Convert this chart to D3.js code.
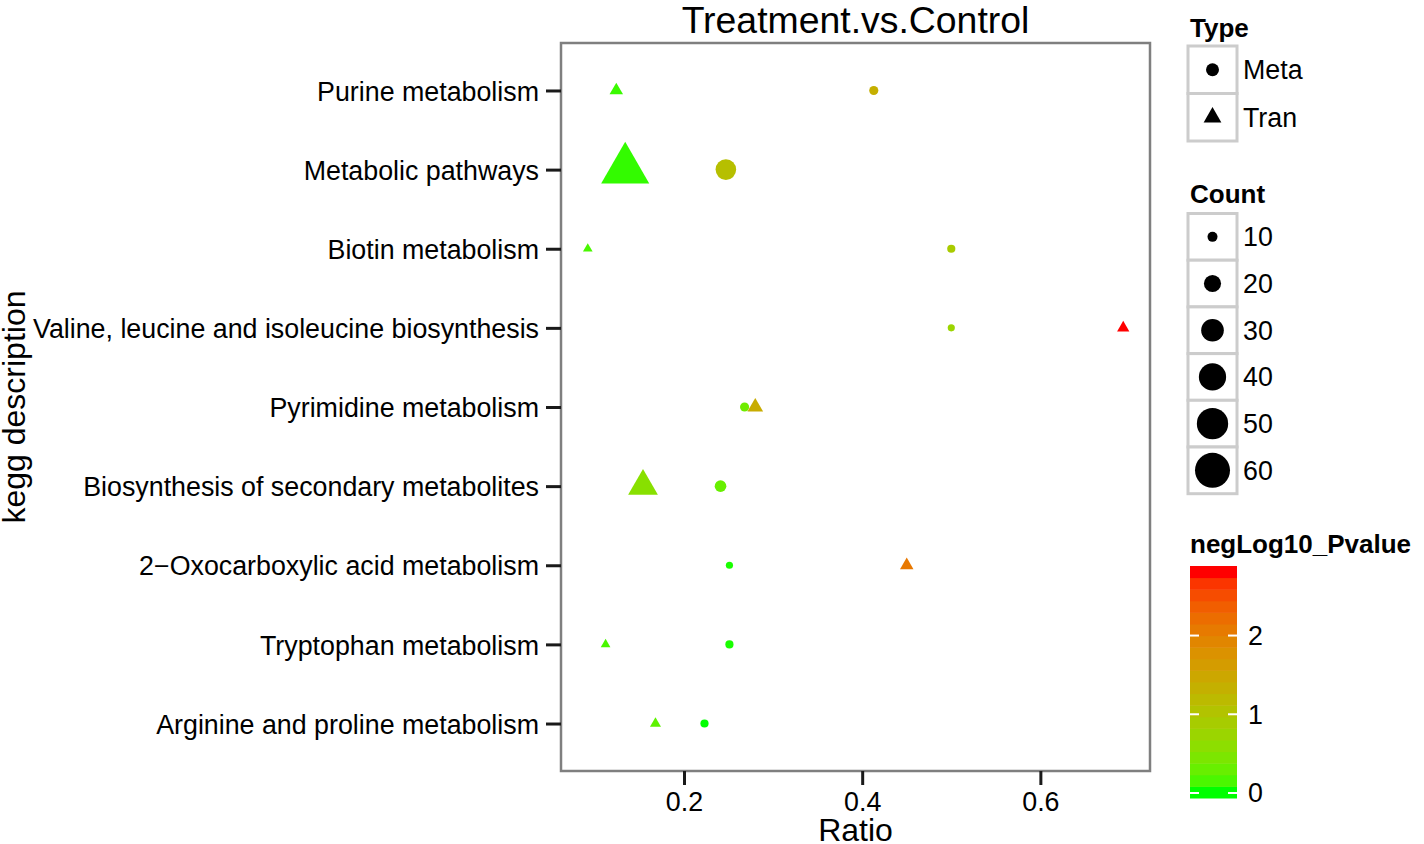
<!DOCTYPE html>
<html>
<head>
<meta charset="utf-8">
<script src="https://cdn.jsdelivr.net/npm/d3@7"></script>
<style>
  html, body { margin: 0; padding: 0; background: #ffffff; }
  svg { display: block; }
  text { font-family: "Liberation Sans", Arial, Helvetica, sans-serif; fill: #000; }
</style>
</head>
<body>
<svg id="chart" width="1424" height="844"></svg>
<script>
// ---------------- data ----------------
const categories = [
  "Purine metabolism",
  "Metabolic pathways",
  "Biotin metabolism",
  "Valine, leucine and isoleucine biosynthesis",
  "Pyrimidine metabolism",
  "Biosynthesis of secondary metabolites",
  "2\u2212Oxocarboxylic acid metabolism",
  "Tryptophan metabolism",
  "Arginine and proline metabolism"
];
const metaRatio = [0.413, 0.247, 0.500, 0.500, 0.268, 0.241, 0.251, 0.251, 0.223];
const tranRatio = [0.124, 0.134, 0.092, 0.693, 0.280, 0.154, 0.450, 0.112, 0.168];
const metaCount = [9, 26, 8, 7, 9, 12, 7, 8, 8];
const tranCount = [10, 62, 7, 9, 12, 29, 10, 7, 8];
const metaNegLog10P = [1.35, 1.10, 0.92, 0.75, 0.35, 0.30, 0.03, 0.03, 0.01];
const tranNegLog10P = [0.10, 0.08, 0.15, 2.81, 1.40, 0.55, 2.10, 0.15, 0.25];

const typeLabels = ["Meta", "Tran"];
const countBreaks = [10, 20, 30, 40, 50, 60];
const colorBreaks = [0, 1, 2];
const xTicks = [0.2, 0.4, 0.6];

const titleText = "Treatment.vs.Control";
const xTitle = "Ratio";
const yTitle = "kegg description";

// ---------------- layout ----------------
const svg = d3.select("#chart");
const panel = { left: 561, right: 1150, top: 43, bottom: 771 };
const font = "'Liberation Sans', Arial, Helvetica, sans-serif";
const axisFont = 26.8;

const allRatios = metaRatio.concat(tranRatio);
const allP = metaNegLog10P.concat(tranNegLog10P);
const [rMin, rMax] = d3.extent(allRatios);
const rPad = (rMax - rMin) * 0.05;

const x = d3.scaleLinear().domain([rMin - rPad, rMax + rPad]).range([panel.left, panel.right]);
const y = d3.scalePoint().domain(categories).range([panel.top, panel.bottom]).padding(0.6);
const diam = d3.scalePow().exponent(0.5).domain([10, 60]).range([10, 35]);
const pExtent = d3.extent(allP);
const color = d3.scaleLinear().domain(pExtent).range(["#00ff00", "#ff0000"]).interpolate(d3.interpolateLab);

// R pch 17 triangle (area equal to circle of radius R)
function triPath(R) {
  const r = 1.5551 * R, yc = 0.7776 * R, xc = 1.3468 * R;
  return `M0,${-r}L${xc},${yc}L${-xc},${yc}Z`;
}

// ---------------- panel ----------------
svg.append("rect")
  .attr("x", panel.left).attr("y", panel.top)
  .attr("width", panel.right - panel.left).attr("height", panel.bottom - panel.top)
  .attr("fill", "#ffffff");

const metaData = categories.map((c, i) => ({ c, r: metaRatio[i], n: metaCount[i], p: metaNegLog10P[i] }));
const tranData = categories.map((c, i) => ({ c, r: tranRatio[i], n: tranCount[i], p: tranNegLog10P[i] }));

svg.append("g").selectAll("circle").data(metaData).join("circle")
  .attr("cx", d => x(d.r)).attr("cy", d => y(d.c))
  .attr("r", d => diam(d.n) / 2)
  .attr("fill", d => color(d.p));

svg.append("g").selectAll("path").data(tranData).join("path")
  .attr("transform", d => `translate(${x(d.r)},${y(d.c)})`)
  .attr("d", d => triPath(diam(d.n) / 2))
  .attr("fill", d => color(d.p));

svg.append("rect")
  .attr("x", panel.left).attr("y", panel.top)
  .attr("width", panel.right - panel.left).attr("height", panel.bottom - panel.top)
  .attr("fill", "none").attr("stroke", "#7f7f7f").attr("stroke-width", 2.5);

// ---------------- axes ----------------
const xAxis = svg.append("g").attr("transform", `translate(0,${panel.bottom})`)
  .call(d3.axisBottom(x).tickValues(xTicks).tickFormat(d3.format(".1f")).tickSize(14).tickPadding(7));
xAxis.select(".domain").remove();
xAxis.selectAll(".tick line").attr("stroke", "#1a1a1a").attr("stroke-width", 3);
xAxis.selectAll(".tick text").attr("font-family", font).attr("font-size", axisFont).attr("fill", "#000")
  .attr("dy", "0.71em");

const yAxis = svg.append("g").attr("transform", `translate(${panel.left},0)`)
  .call(d3.axisLeft(y).tickSize(15).tickPadding(7));
yAxis.select(".domain").remove();
yAxis.selectAll(".tick line").attr("stroke", "#1a1a1a").attr("stroke-width", 3);
yAxis.selectAll(".tick text").attr("font-family", font).attr("font-size", axisFont).attr("fill", "#000")
  .attr("dy", "0.36em");

// titles
svg.append("text").attr("x", (panel.left + panel.right) / 2).attr("y", 33)
  .attr("text-anchor", "middle").attr("font-size", 37.4).text(titleText);
svg.append("text").attr("x", (panel.left + panel.right) / 2).attr("y", 841)
  .attr("text-anchor", "middle").attr("font-size", 32).text(xTitle);
svg.append("text")
  .attr("transform", `translate(25,${(panel.top + panel.bottom) / 2}) rotate(-90)`)
  .attr("text-anchor", "middle").attr("font-size", 32).text(yTitle);

// ---------------- legends ----------------
const lg = { x: 1188, w: 49, textX: 1243 };

// Type legend
svg.append("text").attr("x", 1190).attr("y", 37).attr("font-size", 26).attr("font-weight", "bold").text("Type");
const typeTop = 46, typeH = 47.5;
typeLabels.forEach((t, i) => {
  const y0 = typeTop + i * typeH;
  svg.append("rect").attr("x", lg.x).attr("y", y0).attr("width", lg.w).attr("height", typeH)
    .attr("fill", "#ffffff").attr("stroke", "#cccccc").attr("stroke-width", 3);
  const cx = lg.x + lg.w / 2, cy = y0 + typeH / 2;
  if (t === "Meta") {
    svg.append("circle").attr("cx", cx).attr("cy", cy).attr("r", 6.5).attr("fill", "#000");
  } else {
    svg.append("path").attr("transform", `translate(${cx},${cy})`).attr("d", triPath(6.6)).attr("fill", "#000");
  }
  svg.append("text").attr("x", lg.textX).attr("y", cy + 9.5).attr("font-size", 26.8).text(t);
});

// Count legend
svg.append("text").attr("x", 1190).attr("y", 203).attr("font-size", 26).attr("font-weight", "bold").text("Count");
const countTop = 213.5, countH = 46.7;
countBreaks.forEach((b, i) => {
  const y0 = countTop + i * countH;
  svg.append("rect").attr("x", lg.x).attr("y", y0).attr("width", lg.w).attr("height", countH)
    .attr("fill", "#ffffff").attr("stroke", "#cccccc").attr("stroke-width", 3);
  const cx = lg.x + lg.w / 2, cy = y0 + countH / 2;
  svg.append("circle").attr("cx", cx).attr("cy", cy).attr("r", diam(b) / 2).attr("fill", "#000");
  svg.append("text").attr("x", lg.textX).attr("y", cy + 9.5).attr("font-size", 26.8).text(b);
});

// Colorbar legend
svg.append("text").attr("x", 1190).attr("y", 553).attr("font-size", 26).attr("font-weight", "bold").text("negLog10_Pvalue");
const cb = { x: 1190, w: 47, top: 566, bottom: 798, nbin: 20 };
const binH = (cb.bottom - cb.top) / cb.nbin;
const binVals = d3.range(cb.nbin).map(i => pExtent[0] + (pExtent[1] - pExtent[0]) * i / (cb.nbin - 1));
svg.append("g").selectAll("rect").data(binVals).join("rect")
  .attr("x", cb.x).attr("width", cb.w)
  .attr("y", (d, i) => cb.bottom - (i + 1) * binH).attr("height", binH + 0.5)
  .attr("fill", d => color(d));
const cbScale = d3.scaleLinear().domain(pExtent).range([cb.bottom - binH / 2, cb.top + binH / 2]);
colorBreaks.forEach(b => {
  const yy = cbScale(b);
  svg.append("line").attr("x1", cb.x).attr("x2", cb.x + 9).attr("y1", yy).attr("y2", yy)
    .attr("stroke", "#ffffff").attr("stroke-width", 2);
  svg.append("line").attr("x1", cb.x + cb.w - 9).attr("x2", cb.x + cb.w).attr("y1", yy).attr("y2", yy)
    .attr("stroke", "#ffffff").attr("stroke-width", 2);
  svg.append("text").attr("x", 1248).attr("y", yy + 9.5).attr("font-size", 26.8).text(b);
});
</script>
</body>
</html>
